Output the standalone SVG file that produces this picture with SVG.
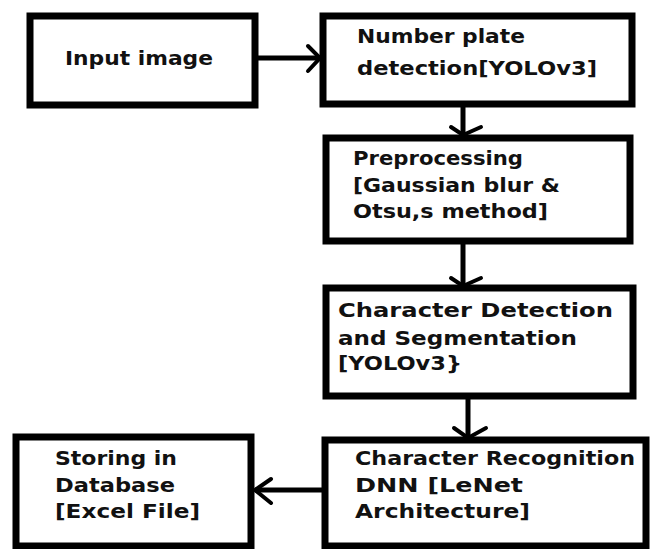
<svg xmlns="http://www.w3.org/2000/svg" width="651" height="549" viewBox="0 0 651 549">
<defs>
<style>
.box{fill:#fff;stroke:#000;stroke-width:7}
.t{font-family:"DejaVu Sans","Liberation Sans",sans-serif;font-weight:bold;font-size:20px;fill:#111}
.c{fill:none;stroke:#000;stroke-width:5}
.h{fill:none;stroke:#000;stroke-width:4;stroke-linecap:round;stroke-linejoin:miter}
</style>
</defs>
<rect width="651" height="549" fill="#fff"/>
<g id="connectors">
<line class="c" x1="255" y1="58" x2="320" y2="58"/>
<polyline class="h" points="308,46 320,58 308,71"/>
<line class="c" x1="463" y1="104" x2="463" y2="134"/>
<polyline class="h" points="451,127 463,135 481,127"/>
<line class="c" x1="463" y1="241" x2="463" y2="285"/>
<polyline class="h" points="451,278 463,286 481,278"/>
<line class="c" x1="468" y1="396" x2="468" y2="437"/>
<polyline class="h" points="454,428 468,438 486,428"/>
<line class="c" x1="325" y1="490" x2="255" y2="490"/>
<polyline class="h" points="271,479 255,490 271,503"/>
</g>
<g id="input">
<rect class="box" x="30" y="16" width="225" height="89"/>
<text class="t" x="65" y="65" textLength="148" lengthAdjust="spacingAndGlyphs">Input image</text>
</g>
<g id="plate">
<rect class="box" x="323" y="16" width="309" height="88"/>
<text class="t" x="357" y="43" textLength="168" lengthAdjust="spacingAndGlyphs">Number plate</text>
<text class="t" x="357" y="75" textLength="240" lengthAdjust="spacingAndGlyphs">detection[YOLOv3]</text>
</g>
<g id="preprocessing">
<rect class="box" x="326" y="138" width="304" height="103"/>
<text class="t" x="353" y="165" textLength="170" lengthAdjust="spacingAndGlyphs">Preprocessing</text>
<text class="t" x="353" y="192" textLength="207" lengthAdjust="spacingAndGlyphs">[Gaussian blur &amp;</text>
<text class="t" x="353" y="218" textLength="195" lengthAdjust="spacingAndGlyphs">Otsu,s method]</text>
</g>
<g id="segmentation">
<rect class="box" x="326" y="288" width="307" height="108"/>
<text class="t" x="338" y="317" textLength="275" lengthAdjust="spacingAndGlyphs">Character Detection</text>
<text class="t" x="338" y="345" textLength="239" lengthAdjust="spacingAndGlyphs">and Segmentation</text>
<text class="t" x="338" y="370" textLength="124" lengthAdjust="spacingAndGlyphs">[YOLOv3}</text>
</g>
<g id="recognition">
<rect class="box" x="325" y="440" width="321" height="106"/>
<text class="t" x="355" y="465" textLength="280" lengthAdjust="spacingAndGlyphs">Character Recognition</text>
<text class="t" x="355" y="492" textLength="168" lengthAdjust="spacingAndGlyphs">DNN [LeNet</text>
<text class="t" x="355" y="518" textLength="175" lengthAdjust="spacingAndGlyphs">Architecture]</text>
</g>
<g id="storing">
<rect class="box" x="16" y="437" width="235" height="109"/>
<text class="t" x="55" y="465" textLength="122" lengthAdjust="spacingAndGlyphs">Storing in</text>
<text class="t" x="55" y="492" textLength="120" lengthAdjust="spacingAndGlyphs">Database</text>
<text class="t" x="55" y="518" textLength="145" lengthAdjust="spacingAndGlyphs">[Excel File]</text>
</g>
</svg>
